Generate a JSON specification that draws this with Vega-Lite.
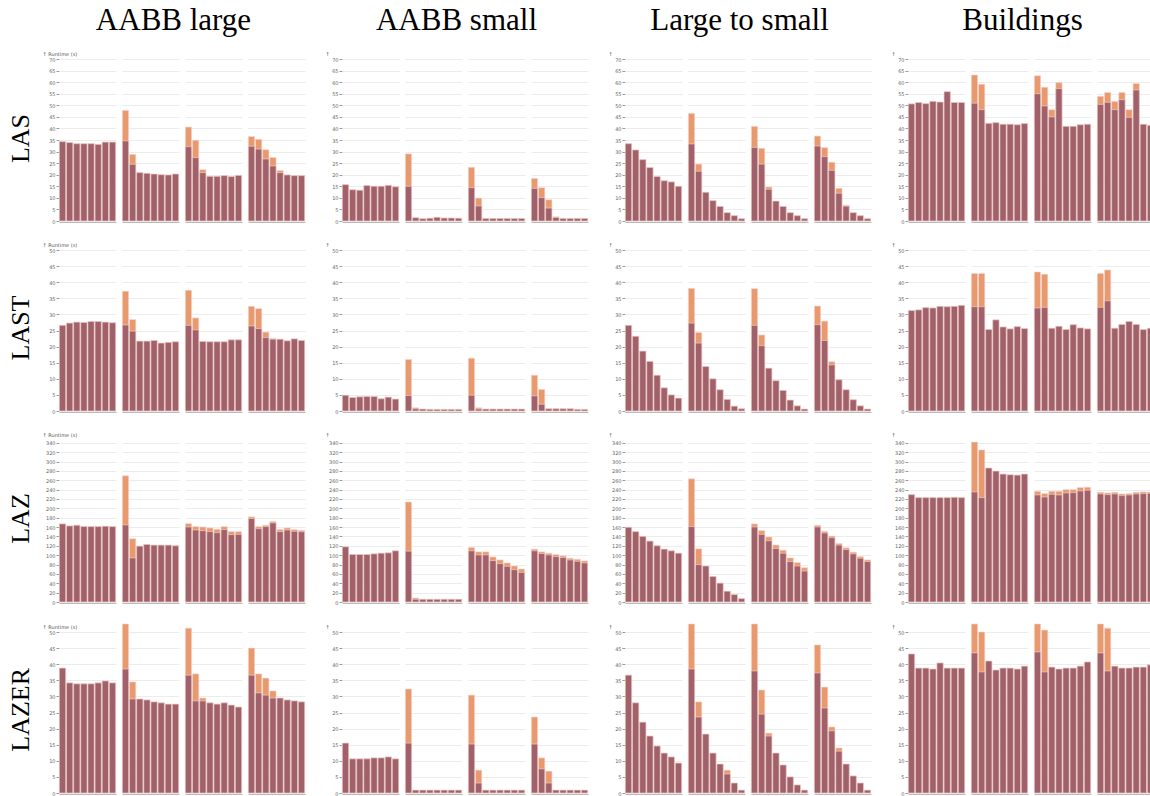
{
"$schema":"https://vega.github.io/schema/vega-lite/v6.json",
"padding":{"left":7,"top":5,"right":0,"bottom":0},
"spacing":18,
"config":{
 "view":{"stroke":null},
 "font":"DejaVu Sans",
 "concat":{"spacing":20},
 "axis":{"labelFontSize":5,"labelColor":"#666","titleFontSize":5,"titleFontWeight":"normal","titleColor":"#555","gridColor":"#ececec","tickColor":"#999","tickSize":3,"domain":false,"labelPadding":1},
 "axisY":{"titleAngle":0,"titleAlign":"left","titleBaseline":"bottom","titleX":-17,"titleY":-3,"grid":true},
 "axisX":{"labels":false,"ticks":false,"domain":true,"domainColor":"#bbbbbb","grid":false},
 "title":{"font":"Liberation Serif","fontSize":31,"fontWeight":"normal","color":"#000","anchor":"middle"}
},
"datasets":{
"LAS_AL":[
{"g":1,"i":1,"b":34.3,"t":34.3},{"g":1,"i":2,"b":33.9,"t":33.9},{"g":1,"i":3,"b":33.4,"t":33.4},{"g":1,"i":4,"b":33.4,"t":33.4},{"g":1,"i":5,"b":33.4,"t":33.4},{"g":1,"i":6,"b":33.1,"t":33.1},{"g":1,"i":7,"b":34.1,"t":34.1},{"g":1,"i":8,"b":34.1,"t":34.1},
{"g":2,"i":1,"b":34.6,"t":47.8},{"g":2,"i":2,"b":24.5,"t":28.8},{"g":2,"i":3,"b":20.9,"t":20.9},{"g":2,"i":4,"b":20.6,"t":20.6},{"g":2,"i":5,"b":20.3,"t":20.3},{"g":2,"i":6,"b":20.0,"t":20.0},{"g":2,"i":7,"b":19.9,"t":19.9},{"g":2,"i":8,"b":20.3,"t":20.3},
{"g":3,"i":1,"b":32.1,"t":40.6},{"g":3,"i":2,"b":27.4,"t":34.9},{"g":3,"i":3,"b":20.9,"t":22.2},{"g":3,"i":4,"b":19.3,"t":19.3},{"g":3,"i":5,"b":19.3,"t":19.3},{"g":3,"i":6,"b":19.6,"t":19.6},{"g":3,"i":7,"b":19.2,"t":19.2},{"g":3,"i":8,"b":19.7,"t":19.7},
{"g":4,"i":1,"b":32.3,"t":36.5},{"g":4,"i":2,"b":31.1,"t":35.3},{"g":4,"i":3,"b":26.8,"t":30.8},{"g":4,"i":4,"b":23.8,"t":27.4},{"g":4,"i":5,"b":20.9,"t":21.8},{"g":4,"i":6,"b":19.9,"t":19.9},{"g":4,"i":7,"b":19.6,"t":19.6},{"g":4,"i":8,"b":19.6,"t":19.6}],
"LAS_AS":[
{"g":1,"i":1,"b":15.7,"t":15.7},{"g":1,"i":2,"b":13.5,"t":13.5},{"g":1,"i":3,"b":13.3,"t":13.3},{"g":1,"i":4,"b":15.3,"t":15.3},{"g":1,"i":5,"b":15.0,"t":15.0},{"g":1,"i":6,"b":15.0,"t":15.0},{"g":1,"i":7,"b":15.4,"t":15.4},{"g":1,"i":8,"b":14.8,"t":14.8},
{"g":2,"i":1,"b":15.0,"t":29.0},{"g":2,"i":2,"b":1.4,"t":1.4},{"g":2,"i":3,"b":1.0,"t":1.0},{"g":2,"i":4,"b":1.2,"t":1.2},{"g":2,"i":5,"b":1.6,"t":1.6},{"g":2,"i":6,"b":1.3,"t":1.3},{"g":2,"i":7,"b":1.3,"t":1.3},{"g":2,"i":8,"b":1.2,"t":1.2},
{"g":3,"i":1,"b":14.4,"t":23.2},{"g":3,"i":2,"b":6.5,"t":9.9},{"g":3,"i":3,"b":1.1,"t":1.1},{"g":3,"i":4,"b":1.1,"t":1.1},{"g":3,"i":5,"b":1.1,"t":1.1},{"g":3,"i":6,"b":1.1,"t":1.1},{"g":3,"i":7,"b":1.1,"t":1.1},{"g":3,"i":8,"b":1.1,"t":1.1},
{"g":4,"i":1,"b":14.1,"t":18.4},{"g":4,"i":2,"b":10.1,"t":14.4},{"g":4,"i":3,"b":5.6,"t":9.2},{"g":4,"i":4,"b":1.5,"t":1.8},{"g":4,"i":5,"b":1.1,"t":1.1},{"g":4,"i":6,"b":1.1,"t":1.1},{"g":4,"i":7,"b":1.1,"t":1.1},{"g":4,"i":8,"b":1.1,"t":1.1}],
"LAS_LS":[
{"g":1,"i":1,"b":33.4,"t":33.4},{"g":1,"i":2,"b":30.7,"t":30.7},{"g":1,"i":3,"b":26.5,"t":26.5},{"g":1,"i":4,"b":23.1,"t":23.1},{"g":1,"i":5,"b":19.2,"t":19.2},{"g":1,"i":6,"b":17.4,"t":17.4},{"g":1,"i":7,"b":16.9,"t":16.9},{"g":1,"i":8,"b":15.0,"t":15.0},
{"g":2,"i":1,"b":33.3,"t":46.5},{"g":2,"i":2,"b":21.5,"t":24.6},{"g":2,"i":3,"b":12.4,"t":12.4},{"g":2,"i":4,"b":8.8,"t":8.8},{"g":2,"i":5,"b":6.3,"t":6.3},{"g":2,"i":6,"b":3.6,"t":3.6},{"g":2,"i":7,"b":2.3,"t":2.3},{"g":2,"i":8,"b":1.0,"t":1.0},
{"g":3,"i":1,"b":31.8,"t":40.9},{"g":3,"i":2,"b":24.6,"t":31.4},{"g":3,"i":3,"b":13.7,"t":14.7},{"g":3,"i":4,"b":8.6,"t":8.6},{"g":3,"i":5,"b":6.3,"t":6.3},{"g":3,"i":6,"b":3.6,"t":3.6},{"g":3,"i":7,"b":2.3,"t":2.3},{"g":3,"i":8,"b":1.0,"t":1.0},
{"g":4,"i":1,"b":32.4,"t":36.7},{"g":4,"i":2,"b":27.8,"t":31.7},{"g":4,"i":3,"b":21.9,"t":25.4},{"g":4,"i":4,"b":12.0,"t":14.1},{"g":4,"i":5,"b":6.4,"t":6.8},{"g":4,"i":6,"b":3.6,"t":3.6},{"g":4,"i":7,"b":2.3,"t":2.3},{"g":4,"i":8,"b":1.0,"t":1.0}],
"LAS_B":[
{"g":1,"i":1,"b":50.6,"t":50.6},{"g":1,"i":2,"b":51.2,"t":51.2},{"g":1,"i":3,"b":50.7,"t":50.7},{"g":1,"i":4,"b":51.7,"t":51.7},{"g":1,"i":5,"b":51.4,"t":51.4},{"g":1,"i":6,"b":55.9,"t":55.9},{"g":1,"i":7,"b":51.2,"t":51.2},{"g":1,"i":8,"b":51.2,"t":51.2},
{"g":2,"i":1,"b":50.9,"t":63.1},{"g":2,"i":2,"b":48.1,"t":59.1},{"g":2,"i":3,"b":42.2,"t":42.2},{"g":2,"i":4,"b":42.5,"t":42.5},{"g":2,"i":5,"b":41.8,"t":41.8},{"g":2,"i":6,"b":41.8,"t":41.8},{"g":2,"i":7,"b":41.6,"t":41.6},{"g":2,"i":8,"b":42.1,"t":42.1},
{"g":3,"i":1,"b":55.0,"t":62.8},{"g":3,"i":2,"b":49.7,"t":57.8},{"g":3,"i":3,"b":45.0,"t":48.1},{"g":3,"i":4,"b":57.2,"t":59.8},{"g":3,"i":5,"b":40.9,"t":40.9},{"g":3,"i":6,"b":40.9,"t":40.9},{"g":3,"i":7,"b":41.6,"t":41.6},{"g":3,"i":8,"b":41.8,"t":41.8},
{"g":4,"i":1,"b":50.4,"t":53.9},{"g":4,"i":2,"b":51.3,"t":55.5},{"g":4,"i":3,"b":48.1,"t":51.7},{"g":4,"i":4,"b":52.4,"t":55.5},{"g":4,"i":5,"b":44.8,"t":48.1},{"g":4,"i":6,"b":56.6,"t":59.4},{"g":4,"i":7,"b":41.8,"t":41.8},{"g":4,"i":8,"b":41.3,"t":41.3}],
"LAST_AL":[
{"g":1,"i":1,"b":26.6,"t":26.6},{"g":1,"i":2,"b":27.3,"t":27.3},{"g":1,"i":3,"b":27.6,"t":27.6},{"g":1,"i":4,"b":27.5,"t":27.5},{"g":1,"i":5,"b":27.8,"t":27.8},{"g":1,"i":6,"b":27.8,"t":27.8},{"g":1,"i":7,"b":27.6,"t":27.6},{"g":1,"i":8,"b":27.4,"t":27.4},
{"g":2,"i":1,"b":26.7,"t":37.2},{"g":2,"i":2,"b":24.8,"t":28.4},{"g":2,"i":3,"b":21.7,"t":21.7},{"g":2,"i":4,"b":21.7,"t":21.7},{"g":2,"i":5,"b":21.9,"t":21.9},{"g":2,"i":6,"b":21.1,"t":21.1},{"g":2,"i":7,"b":21.3,"t":21.3},{"g":2,"i":8,"b":21.5,"t":21.5},
{"g":3,"i":1,"b":26.6,"t":37.5},{"g":3,"i":2,"b":25.2,"t":28.9},{"g":3,"i":3,"b":21.6,"t":21.6},{"g":3,"i":4,"b":21.5,"t":21.5},{"g":3,"i":5,"b":21.5,"t":21.5},{"g":3,"i":6,"b":21.5,"t":21.5},{"g":3,"i":7,"b":22.1,"t":22.1},{"g":3,"i":8,"b":22.1,"t":22.1},
{"g":4,"i":1,"b":26.4,"t":32.5},{"g":4,"i":2,"b":25.6,"t":31.8},{"g":4,"i":3,"b":22.8,"t":24.5},{"g":4,"i":4,"b":22.3,"t":22.5},{"g":4,"i":5,"b":22.3,"t":22.3},{"g":4,"i":6,"b":21.8,"t":21.8},{"g":4,"i":7,"b":22.4,"t":22.4},{"g":4,"i":8,"b":21.9,"t":21.9}],
"LAST_AS":[
{"g":1,"i":1,"b":4.9,"t":4.9},{"g":1,"i":2,"b":4.2,"t":4.2},{"g":1,"i":3,"b":4.4,"t":4.4},{"g":1,"i":4,"b":4.5,"t":4.5},{"g":1,"i":5,"b":4.5,"t":4.5},{"g":1,"i":6,"b":3.8,"t":3.8},{"g":1,"i":7,"b":4.3,"t":4.3},{"g":1,"i":8,"b":3.7,"t":3.7},
{"g":2,"i":1,"b":4.8,"t":16.0},{"g":2,"i":2,"b":0.7,"t":1.0},{"g":2,"i":3,"b":0.6,"t":0.6},{"g":2,"i":4,"b":0.5,"t":0.5},{"g":2,"i":5,"b":0.5,"t":0.5},{"g":2,"i":6,"b":0.5,"t":0.5},{"g":2,"i":7,"b":0.5,"t":0.5},{"g":2,"i":8,"b":0.5,"t":0.5},
{"g":3,"i":1,"b":4.9,"t":16.4},{"g":3,"i":2,"b":0.6,"t":1.0},{"g":3,"i":3,"b":0.6,"t":0.6},{"g":3,"i":4,"b":0.6,"t":0.6},{"g":3,"i":5,"b":0.6,"t":0.6},{"g":3,"i":6,"b":0.6,"t":0.6},{"g":3,"i":7,"b":0.6,"t":0.6},{"g":3,"i":8,"b":0.6,"t":0.6},
{"g":4,"i":1,"b":4.7,"t":11.1},{"g":4,"i":2,"b":2.1,"t":6.7},{"g":4,"i":3,"b":0.7,"t":0.7},{"g":4,"i":4,"b":0.7,"t":0.7},{"g":4,"i":5,"b":0.7,"t":0.7},{"g":4,"i":6,"b":0.7,"t":0.7},{"g":4,"i":7,"b":0.5,"t":0.5},{"g":4,"i":8,"b":0.5,"t":0.5}],
"LAST_LS":[
{"g":1,"i":1,"b":26.6,"t":26.6},{"g":1,"i":2,"b":23.2,"t":23.2},{"g":1,"i":3,"b":18.6,"t":18.6},{"g":1,"i":4,"b":15.4,"t":15.4},{"g":1,"i":5,"b":11.1,"t":11.1},{"g":1,"i":6,"b":7.2,"t":7.2},{"g":1,"i":7,"b":5.0,"t":5.0},{"g":1,"i":8,"b":4.0,"t":4.0},
{"g":2,"i":1,"b":27.3,"t":38.1},{"g":2,"i":2,"b":21.1,"t":24.4},{"g":2,"i":3,"b":13.8,"t":13.8},{"g":2,"i":4,"b":10.0,"t":10.0},{"g":2,"i":5,"b":6.6,"t":6.6},{"g":2,"i":6,"b":3.6,"t":3.6},{"g":2,"i":7,"b":1.5,"t":1.5},{"g":2,"i":8,"b":0.7,"t":0.7},
{"g":3,"i":1,"b":26.6,"t":38.0},{"g":3,"i":2,"b":20.3,"t":23.6},{"g":3,"i":3,"b":13.3,"t":13.3},{"g":3,"i":4,"b":9.4,"t":9.4},{"g":3,"i":5,"b":6.4,"t":6.4},{"g":3,"i":6,"b":3.4,"t":3.4},{"g":3,"i":7,"b":1.6,"t":1.6},{"g":3,"i":8,"b":0.6,"t":0.6},
{"g":4,"i":1,"b":26.8,"t":32.6},{"g":4,"i":2,"b":21.9,"t":27.9},{"g":4,"i":3,"b":14.3,"t":15.3},{"g":4,"i":4,"b":9.7,"t":9.7},{"g":4,"i":5,"b":6.6,"t":6.6},{"g":4,"i":6,"b":3.5,"t":3.5},{"g":4,"i":7,"b":1.6,"t":1.6},{"g":4,"i":8,"b":0.6,"t":0.6}],
"LAST_B":[
{"g":1,"i":1,"b":31.2,"t":31.2},{"g":1,"i":2,"b":31.4,"t":31.4},{"g":1,"i":3,"b":32.1,"t":32.1},{"g":1,"i":4,"b":32.0,"t":32.0},{"g":1,"i":5,"b":32.5,"t":32.5},{"g":1,"i":6,"b":32.4,"t":32.4},{"g":1,"i":7,"b":32.5,"t":32.5},{"g":1,"i":8,"b":32.8,"t":32.8},
{"g":2,"i":1,"b":32.4,"t":42.7},{"g":2,"i":2,"b":32.4,"t":42.7},{"g":2,"i":3,"b":25.3,"t":25.3},{"g":2,"i":4,"b":28.3,"t":28.3},{"g":2,"i":5,"b":26.1,"t":26.1},{"g":2,"i":6,"b":25.5,"t":25.5},{"g":2,"i":7,"b":26.2,"t":26.2},{"g":2,"i":8,"b":25.6,"t":25.6},
{"g":3,"i":1,"b":32.0,"t":43.2},{"g":3,"i":2,"b":32.2,"t":42.5},{"g":3,"i":3,"b":25.7,"t":25.7},{"g":3,"i":4,"b":26.3,"t":26.3},{"g":3,"i":5,"b":25.3,"t":25.3},{"g":3,"i":6,"b":26.8,"t":26.8},{"g":3,"i":7,"b":25.8,"t":25.8},{"g":3,"i":8,"b":25.5,"t":25.5},
{"g":4,"i":1,"b":32.2,"t":42.7},{"g":4,"i":2,"b":34.2,"t":43.8},{"g":4,"i":3,"b":25.7,"t":25.7},{"g":4,"i":4,"b":26.9,"t":26.9},{"g":4,"i":5,"b":27.8,"t":27.8},{"g":4,"i":6,"b":26.9,"t":26.9},{"g":4,"i":7,"b":25.3,"t":25.3},{"g":4,"i":8,"b":25.7,"t":25.7}],
"LAZ_AL":[
{"g":1,"i":1,"b":166.8,"t":166.8},{"g":1,"i":2,"b":162.5,"t":162.5},{"g":1,"i":3,"b":163.9,"t":163.9},{"g":1,"i":4,"b":161,"t":161},{"g":1,"i":5,"b":161,"t":161},{"g":1,"i":6,"b":161,"t":161},{"g":1,"i":7,"b":161.8,"t":161.8},{"g":1,"i":8,"b":161,"t":161},
{"g":2,"i":1,"b":164.6,"t":269.6},{"g":2,"i":2,"b":94.2,"t":135.2},{"g":2,"i":3,"b":119.3,"t":119.3},{"g":2,"i":4,"b":122.9,"t":122.9},{"g":2,"i":5,"b":121.5,"t":121.5},{"g":2,"i":6,"b":121.5,"t":121.5},{"g":2,"i":7,"b":121.5,"t":121.5},{"g":2,"i":8,"b":120.1,"t":120.1},
{"g":3,"i":1,"b":160.3,"t":167.5},{"g":3,"i":2,"b":153.8,"t":161},{"g":3,"i":3,"b":152.4,"t":160.3},{"g":3,"i":4,"b":150.3,"t":158.2},{"g":3,"i":5,"b":148.1,"t":155.3},{"g":3,"i":6,"b":154.6,"t":161},{"g":3,"i":7,"b":143.8,"t":150.3},{"g":3,"i":8,"b":144.5,"t":150.3},
{"g":4,"i":1,"b":178.3,"t":181.9},{"g":4,"i":2,"b":156.7,"t":161},{"g":4,"i":3,"b":161,"t":163.9},{"g":4,"i":4,"b":168.9,"t":171.8},{"g":4,"i":5,"b":150.3,"t":154.6},{"g":4,"i":6,"b":153.8,"t":158.2},{"g":4,"i":7,"b":151,"t":154.6},{"g":4,"i":8,"b":150,"t":153}],
"LAZ_AS":[
{"g":1,"i":1,"b":117.9,"t":117.9},{"g":1,"i":2,"b":101.4,"t":101.4},{"g":1,"i":3,"b":101.4,"t":101.4},{"g":1,"i":4,"b":101.4,"t":101.4},{"g":1,"i":5,"b":102.8,"t":102.8},{"g":1,"i":6,"b":104.2,"t":104.2},{"g":1,"i":7,"b":105,"t":105},{"g":1,"i":8,"b":109.3,"t":109.3},
{"g":2,"i":1,"b":108.6,"t":213.5},{"g":2,"i":2,"b":5.8,"t":8.6},{"g":2,"i":3,"b":5.8,"t":5.8},{"g":2,"i":4,"b":5.8,"t":5.8},{"g":2,"i":5,"b":5.8,"t":5.8},{"g":2,"i":6,"b":5.8,"t":5.8},{"g":2,"i":7,"b":5.8,"t":5.8},{"g":2,"i":8,"b":5.8,"t":5.8},
{"g":3,"i":1,"b":109.3,"t":116.5},{"g":3,"i":2,"b":100.6,"t":107.1},{"g":3,"i":3,"b":100.6,"t":107.1},{"g":3,"i":4,"b":88.4,"t":96.3},{"g":3,"i":5,"b":82,"t":89.9},{"g":3,"i":6,"b":76.2,"t":83.4},{"g":3,"i":7,"b":69,"t":76.9},{"g":3,"i":8,"b":63.3,"t":70.5},
{"g":4,"i":1,"b":109.3,"t":112.9},{"g":4,"i":2,"b":103.5,"t":107.1},{"g":4,"i":3,"b":100.6,"t":104.2},{"g":4,"i":4,"b":97,"t":101.4},{"g":4,"i":5,"b":94.9,"t":98.5},{"g":4,"i":6,"b":89.9,"t":93.5},{"g":4,"i":7,"b":87,"t":91.3},{"g":4,"i":8,"b":83.4,"t":87.7}],
"LAZ_LS":[
{"g":1,"i":1,"b":159.6,"t":159.6},{"g":1,"i":2,"b":150.3,"t":150.3},{"g":1,"i":3,"b":140.2,"t":140.2},{"g":1,"i":4,"b":130.1,"t":130.1},{"g":1,"i":5,"b":120.1,"t":120.1},{"g":1,"i":6,"b":112.9,"t":112.9},{"g":1,"i":7,"b":109.3,"t":109.3},{"g":1,"i":8,"b":104.2,"t":104.2},
{"g":2,"i":1,"b":161,"t":263.1},{"g":2,"i":2,"b":79.8,"t":113.6},{"g":2,"i":3,"b":76.9,"t":76.9},{"g":2,"i":4,"b":54.6,"t":54.6},{"g":2,"i":5,"b":40.3,"t":40.3},{"g":2,"i":6,"b":23,"t":23},{"g":2,"i":7,"b":15.8,"t":15.8},{"g":2,"i":8,"b":7.2,"t":7.2},
{"g":3,"i":1,"b":160.3,"t":166.8},{"g":3,"i":2,"b":144.5,"t":152.4},{"g":3,"i":3,"b":130.8,"t":138.8},{"g":3,"i":4,"b":114.3,"t":121.5},{"g":3,"i":5,"b":104.2,"t":110.7},{"g":3,"i":6,"b":86.3,"t":94.2},{"g":3,"i":7,"b":76.9,"t":84.1},{"g":3,"i":8,"b":66.1,"t":73.3},
{"g":4,"i":1,"b":160.3,"t":163.9},{"g":4,"i":2,"b":147.4,"t":151},{"g":4,"i":3,"b":137.3,"t":140.9},{"g":4,"i":4,"b":121.5,"t":125.1},{"g":4,"i":5,"b":112.1,"t":115.7},{"g":4,"i":6,"b":102.8,"t":106.4},{"g":4,"i":7,"b":93.5,"t":97},{"g":4,"i":8,"b":86.3,"t":89.9}],
"LAZ_B":[
{"g":1,"i":1,"b":229.3,"t":229.3},{"g":1,"i":2,"b":222.9,"t":222.9},{"g":1,"i":3,"b":222.9,"t":222.9},{"g":1,"i":4,"b":222.9,"t":222.9},{"g":1,"i":5,"b":222.9,"t":222.9},{"g":1,"i":6,"b":222.9,"t":222.9},{"g":1,"i":7,"b":223.6,"t":223.6},{"g":1,"i":8,"b":222.9,"t":222.9},
{"g":2,"i":1,"b":235.1,"t":341.5},{"g":2,"i":2,"b":222.9,"t":324.9},{"g":2,"i":3,"b":286.1,"t":286.1},{"g":2,"i":4,"b":279.6,"t":279.6},{"g":2,"i":5,"b":273.2,"t":273.2},{"g":2,"i":6,"b":271.7,"t":271.7},{"g":2,"i":7,"b":271,"t":271},{"g":2,"i":8,"b":273.2,"t":273.2},
{"g":3,"i":1,"b":228.6,"t":236.5},{"g":3,"i":2,"b":224.3,"t":231.5},{"g":3,"i":3,"b":230,"t":236.5},{"g":3,"i":4,"b":228.6,"t":236.5},{"g":3,"i":5,"b":232.9,"t":240.1},{"g":3,"i":6,"b":233.6,"t":240.1},{"g":3,"i":7,"b":237.2,"t":244.4},{"g":3,"i":8,"b":238.7,"t":245.1},
{"g":4,"i":1,"b":230.8,"t":234.4},{"g":4,"i":2,"b":229.3,"t":232.9},{"g":4,"i":3,"b":230.8,"t":234.4},{"g":4,"i":4,"b":227.2,"t":230.8},{"g":4,"i":5,"b":228.6,"t":231.5},{"g":4,"i":6,"b":230.8,"t":234.4},{"g":4,"i":7,"b":231.5,"t":235.1},{"g":4,"i":8,"b":232,"t":235}],
"LAZER_AL":[
{"g":1,"i":1,"b":38.8,"t":38.8},{"g":1,"i":2,"b":34.2,"t":34.2},{"g":1,"i":3,"b":33.9,"t":33.9},{"g":1,"i":4,"b":33.9,"t":33.9},{"g":1,"i":5,"b":33.9,"t":33.9},{"g":1,"i":6,"b":34.2,"t":34.2},{"g":1,"i":7,"b":34.8,"t":34.8},{"g":1,"i":8,"b":34.2,"t":34.2},
{"g":2,"i":1,"b":38.5,"t":52.5},{"g":2,"i":2,"b":29.2,"t":34.5},{"g":2,"i":3,"b":29.2,"t":29.2},{"g":2,"i":4,"b":28.9,"t":28.9},{"g":2,"i":5,"b":28.3,"t":28.3},{"g":2,"i":6,"b":28,"t":28},{"g":2,"i":7,"b":27.6,"t":27.6},{"g":2,"i":8,"b":27.6,"t":27.6},
{"g":3,"i":1,"b":36.6,"t":51.2},{"g":3,"i":2,"b":28.6,"t":37},{"g":3,"i":3,"b":28.6,"t":29.5},{"g":3,"i":4,"b":28,"t":28},{"g":3,"i":5,"b":27.6,"t":27.6},{"g":3,"i":6,"b":28,"t":28},{"g":3,"i":7,"b":27.3,"t":27.3},{"g":3,"i":8,"b":26.7,"t":26.7},
{"g":4,"i":1,"b":36.6,"t":45},{"g":4,"i":2,"b":31.1,"t":37},{"g":4,"i":3,"b":30.4,"t":35.7},{"g":4,"i":4,"b":29.5,"t":31.7},{"g":4,"i":5,"b":29.5,"t":29.5},{"g":4,"i":6,"b":28.9,"t":28.9},{"g":4,"i":7,"b":28.6,"t":28.6},{"g":4,"i":8,"b":28.3,"t":28.3}],
"LAZER_AS":[
{"g":1,"i":1,"b":15.5,"t":15.5},{"g":1,"i":2,"b":10.6,"t":10.6},{"g":1,"i":3,"b":10.6,"t":10.6},{"g":1,"i":4,"b":10.6,"t":10.6},{"g":1,"i":5,"b":10.9,"t":10.9},{"g":1,"i":6,"b":10.9,"t":10.9},{"g":1,"i":7,"b":11.2,"t":11.2},{"g":1,"i":8,"b":10.6,"t":10.6},
{"g":2,"i":1,"b":15.5,"t":32.3},{"g":2,"i":2,"b":0.9,"t":0.9},{"g":2,"i":3,"b":0.9,"t":0.9},{"g":2,"i":4,"b":0.9,"t":0.9},{"g":2,"i":5,"b":0.9,"t":0.9},{"g":2,"i":6,"b":0.9,"t":0.9},{"g":2,"i":7,"b":0.9,"t":0.9},{"g":2,"i":8,"b":0.9,"t":0.9},
{"g":3,"i":1,"b":15.2,"t":30.4},{"g":3,"i":2,"b":3.1,"t":7.1},{"g":3,"i":3,"b":0.9,"t":0.9},{"g":3,"i":4,"b":0.9,"t":0.9},{"g":3,"i":5,"b":0.9,"t":0.9},{"g":3,"i":6,"b":0.9,"t":0.9},{"g":3,"i":7,"b":0.9,"t":0.9},{"g":3,"i":8,"b":0.9,"t":0.9},
{"g":4,"i":1,"b":15.2,"t":23.6},{"g":4,"i":2,"b":7.5,"t":10.9},{"g":4,"i":3,"b":3.1,"t":6.8},{"g":4,"i":4,"b":0.9,"t":0.9},{"g":4,"i":5,"b":0.9,"t":0.9},{"g":4,"i":6,"b":0.9,"t":0.9},{"g":4,"i":7,"b":0.9,"t":0.9},{"g":4,"i":8,"b":0.9,"t":0.9}],
"LAZER_LS":[
{"g":1,"i":1,"b":36.6,"t":36.6},{"g":1,"i":2,"b":28,"t":28},{"g":1,"i":3,"b":22,"t":22},{"g":1,"i":4,"b":17.7,"t":17.7},{"g":1,"i":5,"b":14.6,"t":14.6},{"g":1,"i":6,"b":12.4,"t":12.4},{"g":1,"i":7,"b":11.2,"t":11.2},{"g":1,"i":8,"b":9.3,"t":9.3},
{"g":2,"i":1,"b":38.5,"t":52.5},{"g":2,"i":2,"b":23.6,"t":28.3},{"g":2,"i":3,"b":18.3,"t":18.3},{"g":2,"i":4,"b":12.4,"t":12.4},{"g":2,"i":5,"b":9,"t":9},{"g":2,"i":6,"b":5.9,"t":7.1},{"g":2,"i":7,"b":3.1,"t":3.1},{"g":2,"i":8,"b":0.9,"t":0.9},
{"g":3,"i":1,"b":37.9,"t":52.5},{"g":3,"i":2,"b":24.5,"t":32},{"g":3,"i":3,"b":17.7,"t":18.6},{"g":3,"i":4,"b":12.4,"t":12.4},{"g":3,"i":5,"b":8.7,"t":8.7},{"g":3,"i":6,"b":5,"t":5},{"g":3,"i":7,"b":2.5,"t":2.5},{"g":3,"i":8,"b":0.9,"t":0.9},
{"g":4,"i":1,"b":37.3,"t":46},{"g":4,"i":2,"b":26.4,"t":32.9},{"g":4,"i":3,"b":19.3,"t":20.5},{"g":4,"i":4,"b":13,"t":14},{"g":4,"i":5,"b":9,"t":9},{"g":4,"i":6,"b":5.3,"t":5.3},{"g":4,"i":7,"b":3.1,"t":3.1},{"g":4,"i":8,"b":0.9,"t":0.9}],
"LAZER_B":[
{"g":1,"i":1,"b":43.2,"t":43.2},{"g":1,"i":2,"b":38.8,"t":38.8},{"g":1,"i":3,"b":38.8,"t":38.8},{"g":1,"i":4,"b":38.5,"t":38.5},{"g":1,"i":5,"b":40.4,"t":40.4},{"g":1,"i":6,"b":38.8,"t":38.8},{"g":1,"i":7,"b":38.8,"t":38.8},{"g":1,"i":8,"b":38.8,"t":38.8},
{"g":2,"i":1,"b":43.5,"t":52.5},{"g":2,"i":2,"b":37.6,"t":50},{"g":2,"i":3,"b":41,"t":41},{"g":2,"i":4,"b":38.2,"t":38.2},{"g":2,"i":5,"b":38.8,"t":38.8},{"g":2,"i":6,"b":38.8,"t":38.8},{"g":2,"i":7,"b":38.5,"t":38.5},{"g":2,"i":8,"b":39.4,"t":39.4},
{"g":3,"i":1,"b":43.8,"t":52.5},{"g":3,"i":2,"b":37.6,"t":50.6},{"g":3,"i":3,"b":39.1,"t":39.1},{"g":3,"i":4,"b":38.5,"t":38.5},{"g":3,"i":5,"b":38.8,"t":38.8},{"g":3,"i":6,"b":38.8,"t":38.8},{"g":3,"i":7,"b":39.4,"t":39.4},{"g":3,"i":8,"b":40.7,"t":40.7},
{"g":4,"i":1,"b":43.5,"t":52.5},{"g":4,"i":2,"b":37.9,"t":51.2},{"g":4,"i":3,"b":39.4,"t":39.4},{"g":4,"i":4,"b":38.8,"t":38.8},{"g":4,"i":5,"b":38.8,"t":38.8},{"g":4,"i":6,"b":39.1,"t":39.1},{"g":4,"i":7,"b":39.1,"t":39.1},{"g":4,"i":8,"b":39.8,"t":39.8}]
},
"vconcat":[
{"title":{"text":"LAS","orient":"left","fontSize":26,"offset":8,"dx":-24},
 "hconcat":[
  {"data":{"name":"LAS_AL"},"title":{"text":"AABB large","offset":14},"facet":{"column":{"field":"g","type":"ordinal","header":{"title":null,"labels":false,"labelPadding":0,"titlePadding":0}}},"spacing":6,
   "spec":{"width":57,"height":162,"encoding":{"x":{"field":"i","type":"ordinal","title":null,"scale":{"paddingInner":0.12,"paddingOuter":0.05}}},
    "layer":[
     {"mark":{"type":"bar","fill":"#e9996e","stroke":"#f3d8d4","strokeWidth":0.6},"encoding":{"y":{"field":"t","type":"quantitative","scale":{"domain":[0,70],"nice":false},"axis":{"title":"↑ Runtime (s)","values":[0,5,10,15,20,25,30,35,40,45,50,55,60,65,70]}}}},
     {"mark":{"type":"bar","fill":"#a1616a","stroke":"#f3d8d4","strokeWidth":0.6},"encoding":{"y":{"field":"b","type":"quantitative","scale":{"domain":[0,70],"nice":false},"axis":{"title":"↑ Runtime (s)","values":[0,5,10,15,20,25,30,35,40,45,50,55,60,65,70]}}}}]}},
  {"data":{"name":"LAS_AS"},"title":{"text":"AABB small","offset":14},"facet":{"column":{"field":"g","type":"ordinal","header":{"title":null,"labels":false,"labelPadding":0,"titlePadding":0}}},"spacing":6,
   "spec":{"width":57,"height":162,"encoding":{"x":{"field":"i","type":"ordinal","title":null,"scale":{"paddingInner":0.12,"paddingOuter":0.05}}},
    "layer":[
     {"mark":{"type":"bar","fill":"#e9996e","stroke":"#f3d8d4","strokeWidth":0.6},"encoding":{"y":{"field":"t","type":"quantitative","scale":{"domain":[0,70],"nice":false},"axis":{"title":"↑","values":[0,5,10,15,20,25,30,35,40,45,50,55,60,65,70]}}}},
     {"mark":{"type":"bar","fill":"#a1616a","stroke":"#f3d8d4","strokeWidth":0.6},"encoding":{"y":{"field":"b","type":"quantitative","scale":{"domain":[0,70],"nice":false},"axis":{"title":"↑","values":[0,5,10,15,20,25,30,35,40,45,50,55,60,65,70]}}}}]}},
  {"data":{"name":"LAS_LS"},"title":{"text":"Large to small","offset":14},"facet":{"column":{"field":"g","type":"ordinal","header":{"title":null,"labels":false,"labelPadding":0,"titlePadding":0}}},"spacing":6,
   "spec":{"width":57,"height":162,"encoding":{"x":{"field":"i","type":"ordinal","title":null,"scale":{"paddingInner":0.12,"paddingOuter":0.05}}},
    "layer":[
     {"mark":{"type":"bar","fill":"#e9996e","stroke":"#f3d8d4","strokeWidth":0.6},"encoding":{"y":{"field":"t","type":"quantitative","scale":{"domain":[0,70],"nice":false},"axis":{"title":"↑","values":[0,5,10,15,20,25,30,35,40,45,50,55,60,65,70]}}}},
     {"mark":{"type":"bar","fill":"#a1616a","stroke":"#f3d8d4","strokeWidth":0.6},"encoding":{"y":{"field":"b","type":"quantitative","scale":{"domain":[0,70],"nice":false},"axis":{"title":"↑","values":[0,5,10,15,20,25,30,35,40,45,50,55,60,65,70]}}}}]}},
  {"data":{"name":"LAS_B"},"title":{"text":"Buildings","offset":14},"facet":{"column":{"field":"g","type":"ordinal","header":{"title":null,"labels":false,"labelPadding":0,"titlePadding":0}}},"spacing":6,
   "spec":{"width":57,"height":162,"encoding":{"x":{"field":"i","type":"ordinal","title":null,"scale":{"paddingInner":0.12,"paddingOuter":0.05}}},
    "layer":[
     {"mark":{"type":"bar","fill":"#e9996e","stroke":"#f3d8d4","strokeWidth":0.6},"encoding":{"y":{"field":"t","type":"quantitative","scale":{"domain":[0,70],"nice":false},"axis":{"title":"↑","values":[0,5,10,15,20,25,30,35,40,45,50,55,60,65,70]}}}},
     {"mark":{"type":"bar","fill":"#a1616a","stroke":"#f3d8d4","strokeWidth":0.6},"encoding":{"y":{"field":"b","type":"quantitative","scale":{"domain":[0,70],"nice":false},"axis":{"title":"↑","values":[0,5,10,15,20,25,30,35,40,45,50,55,60,65,70]}}}}]}}
 ]},
{"title":{"text":"LAST","orient":"left","fontSize":26,"offset":8},
 "hconcat":[
  {"data":{"name":"LAST_AL"},"facet":{"column":{"field":"g","type":"ordinal","header":{"title":null,"labels":false,"labelPadding":0,"titlePadding":0}}},"spacing":6,
   "spec":{"width":57,"height":161,"encoding":{"x":{"field":"i","type":"ordinal","title":null,"scale":{"paddingInner":0.12,"paddingOuter":0.05}}},
    "layer":[
     {"mark":{"type":"bar","fill":"#e9996e","stroke":"#f3d8d4","strokeWidth":0.6},"encoding":{"y":{"field":"t","type":"quantitative","scale":{"domain":[0,50],"nice":false},"axis":{"title":"↑ Runtime (s)","values":[0,5,10,15,20,25,30,35,40,45,50]}}}},
     {"mark":{"type":"bar","fill":"#a1616a","stroke":"#f3d8d4","strokeWidth":0.6},"encoding":{"y":{"field":"b","type":"quantitative","scale":{"domain":[0,50],"nice":false},"axis":{"title":"↑ Runtime (s)","values":[0,5,10,15,20,25,30,35,40,45,50]}}}}]}},
  {"data":{"name":"LAST_AS"},"facet":{"column":{"field":"g","type":"ordinal","header":{"title":null,"labels":false,"labelPadding":0,"titlePadding":0}}},"spacing":6,
   "spec":{"width":57,"height":161,"encoding":{"x":{"field":"i","type":"ordinal","title":null,"scale":{"paddingInner":0.12,"paddingOuter":0.05}}},
    "layer":[
     {"mark":{"type":"bar","fill":"#e9996e","stroke":"#f3d8d4","strokeWidth":0.6},"encoding":{"y":{"field":"t","type":"quantitative","scale":{"domain":[0,50],"nice":false},"axis":{"title":"↑","values":[0,5,10,15,20,25,30,35,40,45,50]}}}},
     {"mark":{"type":"bar","fill":"#a1616a","stroke":"#f3d8d4","strokeWidth":0.6},"encoding":{"y":{"field":"b","type":"quantitative","scale":{"domain":[0,50],"nice":false},"axis":{"title":"↑","values":[0,5,10,15,20,25,30,35,40,45,50]}}}}]}},
  {"data":{"name":"LAST_LS"},"facet":{"column":{"field":"g","type":"ordinal","header":{"title":null,"labels":false,"labelPadding":0,"titlePadding":0}}},"spacing":6,
   "spec":{"width":57,"height":161,"encoding":{"x":{"field":"i","type":"ordinal","title":null,"scale":{"paddingInner":0.12,"paddingOuter":0.05}}},
    "layer":[
     {"mark":{"type":"bar","fill":"#e9996e","stroke":"#f3d8d4","strokeWidth":0.6},"encoding":{"y":{"field":"t","type":"quantitative","scale":{"domain":[0,50],"nice":false},"axis":{"title":"↑","values":[0,5,10,15,20,25,30,35,40,45,50]}}}},
     {"mark":{"type":"bar","fill":"#a1616a","stroke":"#f3d8d4","strokeWidth":0.6},"encoding":{"y":{"field":"b","type":"quantitative","scale":{"domain":[0,50],"nice":false},"axis":{"title":"↑","values":[0,5,10,15,20,25,30,35,40,45,50]}}}}]}},
  {"data":{"name":"LAST_B"},"facet":{"column":{"field":"g","type":"ordinal","header":{"title":null,"labels":false,"labelPadding":0,"titlePadding":0}}},"spacing":6,
   "spec":{"width":57,"height":161,"encoding":{"x":{"field":"i","type":"ordinal","title":null,"scale":{"paddingInner":0.12,"paddingOuter":0.05}}},
    "layer":[
     {"mark":{"type":"bar","fill":"#e9996e","stroke":"#f3d8d4","strokeWidth":0.6},"encoding":{"y":{"field":"t","type":"quantitative","scale":{"domain":[0,50],"nice":false},"axis":{"title":"↑","values":[0,5,10,15,20,25,30,35,40,45,50]}}}},
     {"mark":{"type":"bar","fill":"#a1616a","stroke":"#f3d8d4","strokeWidth":0.6},"encoding":{"y":{"field":"b","type":"quantitative","scale":{"domain":[0,50],"nice":false},"axis":{"title":"↑","values":[0,5,10,15,20,25,30,35,40,45,50]}}}}]}}
 ]},
{"title":{"text":"LAZ","orient":"left","fontSize":26,"offset":8},
 "hconcat":[
  {"data":{"name":"LAZ_AL"},"facet":{"column":{"field":"g","type":"ordinal","header":{"title":null,"labels":false,"labelPadding":0,"titlePadding":0}}},"spacing":6,
   "spec":{"width":57,"height":162,"encoding":{"x":{"field":"i","type":"ordinal","title":null,"scale":{"paddingInner":0.12,"paddingOuter":0.05}}},
    "layer":[
     {"mark":{"type":"bar","fill":"#e9996e","stroke":"#f3d8d4","strokeWidth":0.6},"encoding":{"y":{"field":"t","type":"quantitative","scale":{"domain":[0,346],"nice":false},"axis":{"title":"↑ Runtime (s)","values":[0,20,40,60,80,100,120,140,160,180,200,220,240,260,280,300,320,340]}}}},
     {"mark":{"type":"bar","fill":"#a1616a","stroke":"#f3d8d4","strokeWidth":0.6},"encoding":{"y":{"field":"b","type":"quantitative","scale":{"domain":[0,346],"nice":false},"axis":{"title":"↑ Runtime (s)","values":[0,20,40,60,80,100,120,140,160,180,200,220,240,260,280,300,320,340]}}}}]}},
  {"data":{"name":"LAZ_AS"},"facet":{"column":{"field":"g","type":"ordinal","header":{"title":null,"labels":false,"labelPadding":0,"titlePadding":0}}},"spacing":6,
   "spec":{"width":57,"height":162,"encoding":{"x":{"field":"i","type":"ordinal","title":null,"scale":{"paddingInner":0.12,"paddingOuter":0.05}}},
    "layer":[
     {"mark":{"type":"bar","fill":"#e9996e","stroke":"#f3d8d4","strokeWidth":0.6},"encoding":{"y":{"field":"t","type":"quantitative","scale":{"domain":[0,346],"nice":false},"axis":{"title":"↑","values":[0,20,40,60,80,100,120,140,160,180,200,220,240,260,280,300,320,340]}}}},
     {"mark":{"type":"bar","fill":"#a1616a","stroke":"#f3d8d4","strokeWidth":0.6},"encoding":{"y":{"field":"b","type":"quantitative","scale":{"domain":[0,346],"nice":false},"axis":{"title":"↑","values":[0,20,40,60,80,100,120,140,160,180,200,220,240,260,280,300,320,340]}}}}]}},
  {"data":{"name":"LAZ_LS"},"facet":{"column":{"field":"g","type":"ordinal","header":{"title":null,"labels":false,"labelPadding":0,"titlePadding":0}}},"spacing":6,
   "spec":{"width":57,"height":162,"encoding":{"x":{"field":"i","type":"ordinal","title":null,"scale":{"paddingInner":0.12,"paddingOuter":0.05}}},
    "layer":[
     {"mark":{"type":"bar","fill":"#e9996e","stroke":"#f3d8d4","strokeWidth":0.6},"encoding":{"y":{"field":"t","type":"quantitative","scale":{"domain":[0,346],"nice":false},"axis":{"title":"↑","values":[0,20,40,60,80,100,120,140,160,180,200,220,240,260,280,300,320,340]}}}},
     {"mark":{"type":"bar","fill":"#a1616a","stroke":"#f3d8d4","strokeWidth":0.6},"encoding":{"y":{"field":"b","type":"quantitative","scale":{"domain":[0,346],"nice":false},"axis":{"title":"↑","values":[0,20,40,60,80,100,120,140,160,180,200,220,240,260,280,300,320,340]}}}}]}},
  {"data":{"name":"LAZ_B"},"facet":{"column":{"field":"g","type":"ordinal","header":{"title":null,"labels":false,"labelPadding":0,"titlePadding":0}}},"spacing":6,
   "spec":{"width":57,"height":162,"encoding":{"x":{"field":"i","type":"ordinal","title":null,"scale":{"paddingInner":0.12,"paddingOuter":0.05}}},
    "layer":[
     {"mark":{"type":"bar","fill":"#e9996e","stroke":"#f3d8d4","strokeWidth":0.6},"encoding":{"y":{"field":"t","type":"quantitative","scale":{"domain":[0,346],"nice":false},"axis":{"title":"↑","values":[0,20,40,60,80,100,120,140,160,180,200,220,240,260,280,300,320,340]}}}},
     {"mark":{"type":"bar","fill":"#a1616a","stroke":"#f3d8d4","strokeWidth":0.6},"encoding":{"y":{"field":"b","type":"quantitative","scale":{"domain":[0,346],"nice":false},"axis":{"title":"↑","values":[0,20,40,60,80,100,120,140,160,180,200,220,240,260,280,300,320,340]}}}}]}}
 ]},
{"title":{"text":"LAZER","orient":"left","fontSize":26,"offset":8},
 "hconcat":[
  {"data":{"name":"LAZER_AL"},"facet":{"column":{"field":"g","type":"ordinal","header":{"title":null,"labels":false,"labelPadding":0,"titlePadding":0}}},"spacing":6,
   "spec":{"width":57,"height":161,"encoding":{"x":{"field":"i","type":"ordinal","title":null,"scale":{"paddingInner":0.12,"paddingOuter":0.05}}},
    "layer":[
     {"mark":{"type":"bar","fill":"#e9996e","stroke":"#f3d8d4","strokeWidth":0.6},"encoding":{"y":{"field":"t","type":"quantitative","scale":{"domain":[0,50],"nice":false},"axis":{"title":"↑ Runtime (s)","values":[0,5,10,15,20,25,30,35,40,45,50]}}}},
     {"mark":{"type":"bar","fill":"#a1616a","stroke":"#f3d8d4","strokeWidth":0.6},"encoding":{"y":{"field":"b","type":"quantitative","scale":{"domain":[0,50],"nice":false},"axis":{"title":"↑ Runtime (s)","values":[0,5,10,15,20,25,30,35,40,45,50]}}}}]}},
  {"data":{"name":"LAZER_AS"},"facet":{"column":{"field":"g","type":"ordinal","header":{"title":null,"labels":false,"labelPadding":0,"titlePadding":0}}},"spacing":6,
   "spec":{"width":57,"height":161,"encoding":{"x":{"field":"i","type":"ordinal","title":null,"scale":{"paddingInner":0.12,"paddingOuter":0.05}}},
    "layer":[
     {"mark":{"type":"bar","fill":"#e9996e","stroke":"#f3d8d4","strokeWidth":0.6},"encoding":{"y":{"field":"t","type":"quantitative","scale":{"domain":[0,50],"nice":false},"axis":{"title":"↑","values":[0,5,10,15,20,25,30,35,40,45,50]}}}},
     {"mark":{"type":"bar","fill":"#a1616a","stroke":"#f3d8d4","strokeWidth":0.6},"encoding":{"y":{"field":"b","type":"quantitative","scale":{"domain":[0,50],"nice":false},"axis":{"title":"↑","values":[0,5,10,15,20,25,30,35,40,45,50]}}}}]}},
  {"data":{"name":"LAZER_LS"},"facet":{"column":{"field":"g","type":"ordinal","header":{"title":null,"labels":false,"labelPadding":0,"titlePadding":0}}},"spacing":6,
   "spec":{"width":57,"height":161,"encoding":{"x":{"field":"i","type":"ordinal","title":null,"scale":{"paddingInner":0.12,"paddingOuter":0.05}}},
    "layer":[
     {"mark":{"type":"bar","fill":"#e9996e","stroke":"#f3d8d4","strokeWidth":0.6},"encoding":{"y":{"field":"t","type":"quantitative","scale":{"domain":[0,50],"nice":false},"axis":{"title":"↑","values":[0,5,10,15,20,25,30,35,40,45,50]}}}},
     {"mark":{"type":"bar","fill":"#a1616a","stroke":"#f3d8d4","strokeWidth":0.6},"encoding":{"y":{"field":"b","type":"quantitative","scale":{"domain":[0,50],"nice":false},"axis":{"title":"↑","values":[0,5,10,15,20,25,30,35,40,45,50]}}}}]}},
  {"data":{"name":"LAZER_B"},"facet":{"column":{"field":"g","type":"ordinal","header":{"title":null,"labels":false,"labelPadding":0,"titlePadding":0}}},"spacing":6,
   "spec":{"width":57,"height":161,"encoding":{"x":{"field":"i","type":"ordinal","title":null,"scale":{"paddingInner":0.12,"paddingOuter":0.05}}},
    "layer":[
     {"mark":{"type":"bar","fill":"#e9996e","stroke":"#f3d8d4","strokeWidth":0.6},"encoding":{"y":{"field":"t","type":"quantitative","scale":{"domain":[0,50],"nice":false},"axis":{"title":"↑","values":[0,5,10,15,20,25,30,35,40,45,50]}}}},
     {"mark":{"type":"bar","fill":"#a1616a","stroke":"#f3d8d4","strokeWidth":0.6},"encoding":{"y":{"field":"b","type":"quantitative","scale":{"domain":[0,50],"nice":false},"axis":{"title":"↑","values":[0,5,10,15,20,25,30,35,40,45,50]}}}}]}}
 ]}
]
}
